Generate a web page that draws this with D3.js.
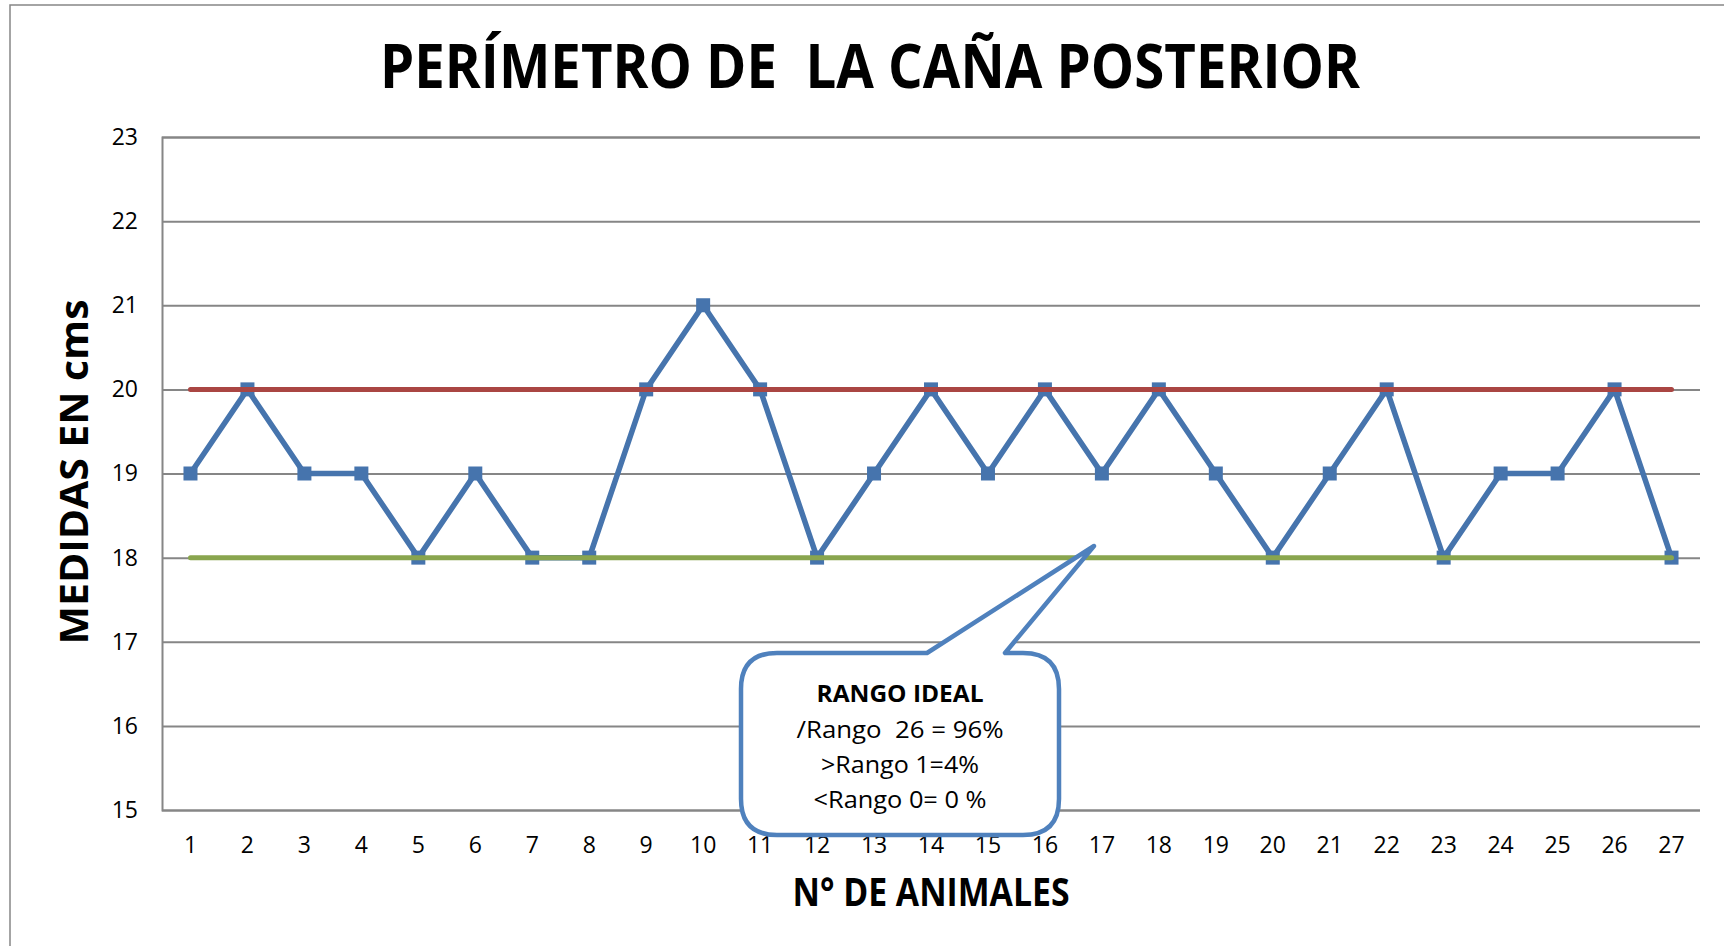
<!DOCTYPE html>
<html>
<head>
<meta charset="utf-8">
<script src="https://cdn.jsdelivr.net/npm/d3@7"></script>
<style>
html,body{margin:0;padding:0;background:#fff;}
svg{display:block;}
text{white-space:pre;}
</style>
</head>
<body>
<svg id="chart" width="1724" height="946"></svg>
<script>
const categories = ["1","2","3","4","5","6","7","8","9","10","11","12","13","14","15","16","17","18","19","20","21","22","23","24","25","26","27"];
const medidas = [19,20,19,19,18,19,18,18,20,21,20,18,19,20,19,20,19,20,19,18,19,20,18,19,19,20,18];
const limiteSuperior = categories.map(() => 20);
const limiteInferior = categories.map(() => 18);
const yTicks = [15,16,17,18,19,20,21,22,23];
const titleText = "PERÍMETRO DE  LA CAÑA POSTERIOR";
const yTitle = "MEDIDAS EN cms";
const xTitle = "N° DE ANIMALES";
const calloutLines = ["RANGO IDEAL", "/Rango  26 = 96%", ">Rango 1=4%", "<Rango 0= 0 %"];

const svg = d3.select("#chart");
const font = "'Open Sans', 'Noto Sans', 'Liberation Sans', sans-serif";
const plot = {left:162, right:1700, top:137, bottom:810};

const x = d3.scaleBand().domain(categories).range([plot.left, plot.right]);
const y = d3.scaleLinear().domain([15,23]).range([plot.bottom, plot.top]);
const cx = c => x(c) + x.bandwidth()/2;

// outer frame
svg.append("rect").attr("x",10).attr("y",5).attr("width",1740).attr("height",1000)
  .attr("fill","none").attr("stroke","#868686").attr("stroke-width",1.5);

// gridlines
const yAxis = d3.axisLeft(y).tickValues(yTicks).tickSize(-(plot.right-plot.left)).tickPadding(24).tickFormat(d3.format("d"));
const gy = svg.append("g").attr("transform",`translate(${plot.left},0)`).call(yAxis);
gy.select(".domain").attr("stroke","#868686").attr("stroke-width",2);
gy.selectAll(".tick line").attr("stroke","#868686").attr("stroke-width",2);
gy.selectAll(".tick text").attr("font-family",font).attr("font-size",23).attr("fill","#000");

const xAxis = d3.axisBottom(x).tickSize(0).tickPadding(0);
const gx = svg.append("g").attr("transform",`translate(0,${plot.bottom})`).call(xAxis);
gx.select(".domain").remove();
gx.selectAll(".tick text").attr("font-family",font).attr("font-size",23).attr("fill","#000")
  .attr("dy",null).attr("y",43);

// series
const line = d3.line().x((d,i)=>cx(categories[i])).y(d=>y(d));
svg.append("path").datum(medidas).attr("d",line).attr("fill","none")
  .attr("stroke","#4674AD").attr("stroke-width",5.5).attr("stroke-linejoin","miter");
svg.append("g").selectAll("rect").data(medidas).join("rect")
  .attr("x",(d,i)=>cx(categories[i])-7).attr("y",d=>y(d)-7)
  .attr("width",14).attr("height",14).attr("fill","#4674AD");

svg.append("path").datum(limiteSuperior).attr("d",line).attr("fill","none")
  .attr("stroke","#AA4643").attr("stroke-width",5).attr("stroke-linecap","round");
svg.append("path").datum(limiteInferior).attr("d",line).attr("fill","none")
  .attr("stroke","#89A54E").attr("stroke-width",5).attr("stroke-linecap","round");

// titles
svg.append("text").attr("x",870).attr("y",88).attr("text-anchor","middle")
  .attr("font-family",font).attr("font-weight","bold").attr("font-size",60)
  .attr("textLength",980).attr("lengthAdjust","spacingAndGlyphs").text(titleText);
svg.append("text").attr("transform","translate(88,472) rotate(-90)").attr("text-anchor","middle")
  .attr("font-family",font).attr("font-weight","bold").attr("font-size",39)
  .attr("textLength",345).attr("lengthAdjust","spacingAndGlyphs").text(yTitle);
svg.append("text").attr("x",931).attr("y",906).attr("text-anchor","middle")
  .attr("font-family",font).attr("font-weight","bold").attr("font-size",39)
  .attr("textLength",277).attr("lengthAdjust","spacingAndGlyphs").text(xTitle);

// callout
const bx0=741, bx1=1059, by0=653, by1=835, r=36;
const tip=[1094,546], t0=927, t1=1005;
const p = d3.path();
p.moveTo(bx0+r, by0);
p.lineTo(t0, by0);
p.lineTo(tip[0], tip[1]);
p.lineTo(t1, by0);
p.lineTo(bx1-r, by0);
p.quadraticCurveTo(bx1, by0, bx1, by0+r);
p.lineTo(bx1, by1-r);
p.quadraticCurveTo(bx1, by1, bx1-r, by1);
p.lineTo(bx0+r, by1);
p.quadraticCurveTo(bx0, by1, bx0, by1-r);
p.lineTo(bx0, by0+r);
p.quadraticCurveTo(bx0, by0, bx0+r, by0);
p.closePath();
svg.append("path").attr("d",p.toString()).attr("fill","#fff")
  .attr("stroke","#4F81BD").attr("stroke-width",4.5).attr("stroke-linejoin","round");

const widths=[167,207,158,173];
const baselines=[702,738,773,808];
calloutLines.forEach((t,i)=>{
  svg.append("text").attr("x",900).attr("y",baselines[i]).attr("text-anchor","middle")
    .attr("font-family",font).attr("font-size",23).attr("font-weight",i===0?"bold":"normal")
    .attr("textLength",widths[i]).attr("lengthAdjust","spacingAndGlyphs").text(t);
});
</script>
</body>
</html>
